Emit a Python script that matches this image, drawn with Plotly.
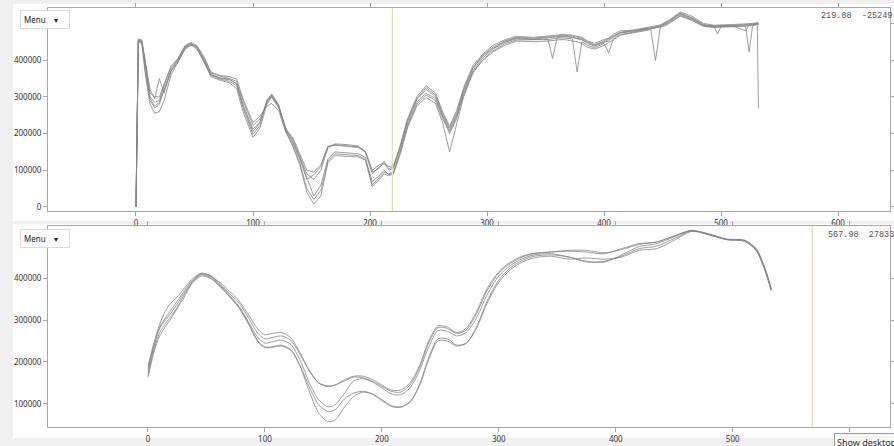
import plotly.graph_objects as go

W, H = 894, 446

# ---------------- top panel data (values in thousands) ----------------
TOP_X = [0, 2, 5, 8, 12, 16, 20, 24, 30, 36, 42, 47, 52, 58, 64, 72, 80, 86, 92, 100,
         106, 112, 116, 122, 128, 134, 140, 146, 152, 158, 164, 170, 180, 190, 196, 202,
         208, 212, 216, 220, 226, 232, 240, 248, 256, 262, 268, 274, 280, 288, 296, 305,
         315, 325, 340, 352, 356, 360, 366, 373, 377, 381, 386, 392, 400, 404, 408, 414,
         425, 440, 444, 448, 456, 465, 475, 485, 494, 497, 500, 510, 521, 524, 527, 531, 532]

TOP_A = [0, 455, 452, 390, 310, 300, 300, 335, 380, 400, 435, 445, 435, 400, 360, 352, 348, 335, 270, 205,
         230, 290, 305, 275, 215, 185, 140, 90, 75, 100, 160, 172, 170, 166, 150, 95,
         105, 125, 100, 105, 165, 235, 295, 325, 305, 255, 215, 255, 320, 380, 412, 435,
         452, 462, 460, 462, 464, 466, 468, 465, 463, 460, 450, 442, 452, 458, 466, 476,
         480, 488, 490, 494, 508, 528, 516, 497, 493, 494, 494, 495, 496, 497, 498, 500, 500]
TOP_B = [0, 458, 455, 400, 320, 295, 350, 310, 370, 395, 430, 440, 438, 405, 365, 356, 350, 342, 285, 222,
         240, 285, 300, 270, 210, 175, 130, 75, 88, 110, 165, 170, 168, 164, 152, 100,
         115, 120, 110, 112, 170, 240, 300, 330, 310, 260, 220, 262, 325, 385, 415, 440,
         455, 465, 462, 466, 468, 470, 470, 468, 466, 462, 452, 446, 456, 460, 470, 480,
         482, 490, 492, 496, 510, 531, 520, 500, 495, 496, 496, 497, 498, 499, 500, 502, 502]
TOP_C = [0, 452, 448, 370, 290, 270, 280, 320, 375, 405, 438, 446, 432, 395, 355, 345, 338, 322, 255, 190,
         215, 280, 300, 272, 212, 180, 135, 80, 30, 60, 130, 150, 148, 145, 135, 60,
         80, 95, 90, 95, 150, 220, 280, 305, 290, 240, 205, 245, 310, 372, 405, 430,
         448, 458, 456, 458, 405, 462, 464, 462, 458, 455, 445, 438, 448, 452, 462, 474,
         478, 486, 488, 492, 505, 525, 512, 495, 492, 471, 492, 493, 480, 496, 497, 499, 499]
TOP_D = [0, 456, 450, 380, 300, 285, 290, 330, 385, 405, 440, 448, 440, 410, 368, 358, 355, 348, 290, 230,
         248, 275, 282, 262, 205, 170, 120, 50, 20, 45, 125, 145, 142, 140, 130, 70,
         85, 100, 88, 92, 155, 225, 285, 310, 295, 245, 200, 240, 305, 368, 400, 425,
         444, 455, 455, 456, 458, 460, 460, 458, 368, 450, 440, 434, 445, 420, 458, 470,
         476, 484, 486, 490, 502, 522, 510, 493, 490, 491, 491, 492, 493, 422, 494, 498, 498]
TOP_E = [0, 450, 445, 360, 280, 255, 260, 290, 360, 395, 432, 442, 430, 398, 358, 348, 342, 330, 265, 198,
         222, 292, 308, 278, 205, 165, 115, 40, 8, 30, 120, 140, 138, 136, 128, 55,
         75, 90, 85, 90, 145, 215, 275, 298, 282, 230, 150, 225, 300, 365, 398, 422,
         440, 452, 450, 452, 454, 455, 456, 452, 450, 445, 435, 430, 440, 448, 455, 468,
         475, 483, 398, 488, 500, 520, 508, 492, 489, 490, 490, 491, 492, 493, 494, 497, 497]
TOP_F = [0, 454, 450, 385, 295, 275, 285, 320, 370, 400, 436, 444, 436, 402, 362, 350, 346, 336, 275, 212,
         232, 288, 302, 275, 208, 190, 145, 100, 95, 115, 165, 168, 165, 162, 150, 90,
         110, 118, 105, 108, 165, 232, 292, 320, 300, 250, 210, 250, 315, 378, 410, 432,
         450, 460, 458, 460, 462, 464, 465, 462, 460, 457, 448, 440, 450, 456, 465, 475,
         480, 487, 489, 493, 506, 527, 514, 496, 492, 493, 493, 494, 495, 496, 497, 500, 268]
TOP_SERIES = [TOP_A, TOP_B, TOP_C, TOP_D, TOP_E, TOP_F]

# ---------------- bottom panel data (values in thousands) ----------------
BOT_X = [0, 5, 10, 15, 20, 25, 30, 38, 46, 54, 62, 70, 78, 86, 94, 100, 106, 114, 122, 130,
         138, 146, 154, 160, 168, 176, 184, 192, 200, 208, 216, 224, 232, 240, 248, 256,
         264, 272, 280, 290, 300, 310, 320, 330, 345, 360, 375, 390, 405, 420, 435, 450,
         465, 480, 495, 510, 520, 527, 533]
BOT_P = [190, 245, 290, 322, 342, 355, 372, 398, 412, 405, 385, 362, 340, 305, 268, 255, 258, 262, 252, 218,
         178, 150, 141, 145, 158, 166, 166, 158, 145, 133, 133, 150, 190, 250, 286, 283,
         270, 280, 315, 375, 415, 438, 452, 459, 462, 464, 462, 458, 470, 482, 486, 500,
         514, 503, 492, 488, 466, 425, 370]
BOT_Q = [178, 235, 283, 305, 325, 345, 365, 395, 410, 404, 388, 368, 345, 312, 278, 265, 268, 270, 258, 222,
         180, 150, 143, 145, 155, 164, 162, 154, 142, 130, 128, 145, 185, 245, 282, 280,
         268, 276, 310, 370, 412, 435, 450, 458, 462, 466, 466, 460, 468, 480, 486, 500,
         513, 504, 492, 490, 470, 428, 375]
BOT_R = [170, 228, 270, 292, 310, 330, 355, 390, 408, 400, 382, 358, 332, 295, 258, 245, 248, 252, 242, 205,
         150, 110, 93, 98, 125, 155, 160, 152, 138, 124, 122, 138, 178, 235, 275, 273,
         262, 270, 300, 360, 405, 430, 446, 455, 458, 450, 440, 438, 455, 475, 482, 498,
         513, 505, 493, 490, 470, 427, 374]
BOT_S = [184, 240, 280, 300, 318, 338, 360, 392, 410, 403, 380, 355, 330, 292, 250, 236, 236, 240, 230, 192,
         140, 98, 82, 86, 112, 126, 130, 124, 110, 96, 93, 105, 145, 210, 255, 255,
         240, 245, 278, 345, 395, 425, 442, 452, 455, 450, 438, 440, 452, 470, 476, 494,
         512, 503, 492, 489, 468, 424, 372]
BOT_T = [163, 222, 262, 285, 305, 328, 350, 388, 405, 398, 378, 355, 328, 290, 248, 234, 235, 238, 228, 190,
         130, 78, 58, 62, 92, 118, 128, 123, 108, 94, 92, 104, 142, 205, 250, 250,
         238, 244, 275, 340, 390, 420, 438, 448, 452, 445, 448, 445, 450, 466, 470, 490,
         511, 503, 491, 488, 466, 422, 370]
BOT_SERIES = [BOT_P, BOT_Q, BOT_R, BOT_S, BOT_T]

X_TICKS = [0, 100, 200, 300, 400, 500, 600]
X_LABELS_TOP = ["0", "100", "200", "300", "400", "500", "600"]
X_LABELS_BOT = ["0", "100", "200", "300", "400", "500", ""]      # 600 hidden under tooltip
TOP_Y_TICKS = [0, 100000, 200000, 300000, 400000, 500000]
TOP_Y_LABELS = ["0", "100000", "200000", "300000", "400000", ""]  # 500000 hidden under Menu
BOT_Y_TICKS = [100000, 200000, 300000, 400000, 500000]
BOT_Y_LABELS = ["100000", "200000", "300000", "400000", ""]
CURSOR_TOP = 219.08
CURSOR_BOT = 567.98
READOUT_TOP = "219.08  -25249"
READOUT_BOT = "567.98  27833"

LINE_COLOR = "#858585"
CURSOR_COLOR = "#e2deae"

fig = go.Figure()
for ys in TOP_SERIES:
    fig.add_trace(go.Scatter(x=TOP_X, y=[v * 1000 for v in ys], mode="lines",
                             line=dict(color=LINE_COLOR, width=0.8), xaxis="x", yaxis="y",
                             showlegend=False, hoverinfo="skip"))
for ys in BOT_SERIES:
    fig.add_trace(go.Scatter(x=BOT_X, y=[v * 1000 for v in ys], mode="lines",
                             line=dict(color=LINE_COLOR, width=0.8, shape="spline", smoothing=0.8),
                             xaxis="x2", yaxis="y2", showlegend=False, hoverinfo="skip"))


def px(x):
    return x / W


def py(y):
    return 1 - y / H


axis_common = dict(showline=True, linecolor="#a8a8a8", linewidth=1, mirror="ticks",
                   ticks="outside", ticklen=4, tickcolor="#a8a8a8", showgrid=False,
                   zeroline=False, tickfont=dict(family="Noto Sans", size=8, color="#333333"))

fig.update_layout(
    width=W, height=H, margin=dict(l=0, r=0, t=0, b=0),
    paper_bgcolor="#f0f0f0", plot_bgcolor="#ffffff",
    xaxis=dict(domain=[px(48), px(890)], range=[-75.2, 644.4], tickvals=X_TICKS,
               ticktext=X_LABELS_TOP, anchor="y", **axis_common),
    yaxis=dict(domain=[py(211), py(8)], range=[-11000, 542000], tickvals=TOP_Y_TICKS,
               ticktext=TOP_Y_LABELS, anchor="x", **axis_common),
    xaxis2=dict(domain=[px(48), px(890)], range=[-85.5, 634.5], tickvals=X_TICKS,
                ticktext=X_LABELS_BOT, anchor="y2", **axis_common),
    yaxis2=dict(domain=[py(427), py(226)], range=[45000, 524000], tickvals=BOT_Y_TICKS,
                ticktext=BOT_Y_LABELS, anchor="x2", **axis_common),
)

shapes = [
    dict(type="rect", xref="paper", yref="paper", x0=px(13), x1=px(894), y0=py(221), y1=py(4),
         fillcolor="#ffffff", line=dict(width=0), layer="below"),
    dict(type="rect", xref="paper", yref="paper", x0=px(13), x1=px(894), y0=py(438), y1=py(224),
         fillcolor="#ffffff", line=dict(width=0), layer="below"),
    dict(type="line", xref="x", yref="y domain", x0=CURSOR_TOP, x1=CURSOR_TOP, y0=0, y1=1,
         line=dict(color=CURSOR_COLOR, width=1.2)),
    dict(type="line", xref="x2", yref="y2 domain", x0=CURSOR_BOT, x1=CURSOR_BOT, y0=0, y1=1,
         line=dict(color=CURSOR_COLOR, width=1.2)),
]
fig.update_layout(shapes=shapes)

annotations = []
for center in (19, 238):
    annotations.append(dict(xref="paper", yref="paper", x=px(20), y=py(center),
                            xanchor="left", yanchor="middle", showarrow=False,
                            text="Menu    \u25be", font=dict(family="Noto Sans", size=8, color="#222"),
                            bgcolor="#ffffff", bordercolor="#dcdcdc", borderwidth=1,
                            borderpad=3, width=42, align="left"))
annotations.append(dict(xref="paper", yref="paper", x=px(819), y=py(16), xanchor="left",
                        yanchor="middle", showarrow=False, text=READOUT_TOP,
                        font=dict(family="Liberation Mono", size=8.5, color="#555555")))
annotations.append(dict(xref="paper", yref="paper", x=px(826), y=py(235), xanchor="left",
                        yanchor="middle", showarrow=False, text=READOUT_BOT,
                        font=dict(family="Liberation Mono", size=8.5, color="#555555")))
annotations.append(dict(xref="paper", yref="paper", x=px(834), y=py(442), xanchor="left",
                        yanchor="middle", showarrow=False, text="Show desktop",
                        font=dict(family="Noto Sans", size=9, color="#333333"),
                        bgcolor="#f7f7f7", bordercolor="#9a9a9a", borderwidth=1, borderpad=2))
fig.update_layout(annotations=annotations)

fig.write_html("out.html")
